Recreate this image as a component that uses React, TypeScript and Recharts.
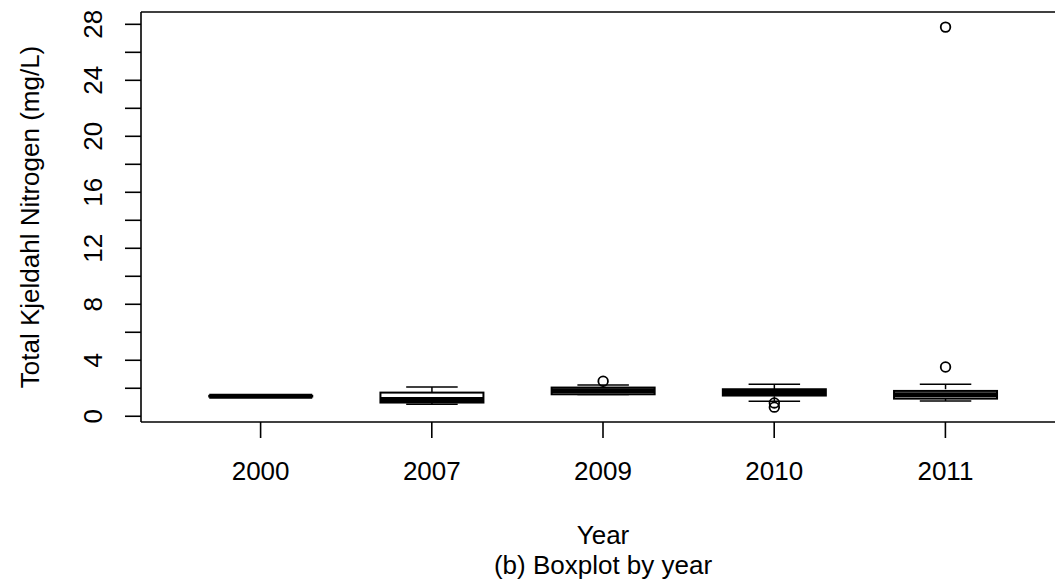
import React from 'react';
import { Bar, ComposedChart, XAxis, YAxis } from 'recharts';

const years = ['2000', '2007', '2009', '2010', '2011'];
const whiskerLo = [1.41, 0.86, 1.55, 1.07, 1.09];
const q1 = [1.41, 0.98, 1.57, 1.48, 1.26];
const median = [1.43, 1.2, 1.82, 1.7, 1.54];
const q3 = [1.46, 1.69, 2.05, 1.93, 1.81];
const whiskerHi = [1.46, 2.09, 2.24, 2.29, 2.29];
const outliers: number[][] = [[], [], [2.5], [0.95, 0.65], [3.52, 27.8]];

const yTicks = [0, 2, 4, 6, 8, 10, 12, 14, 16, 18, 20, 22, 24, 26, 28];
const yDomain: [number, number] = [-0.41, 28.88];

const FONT = '"Liberation Sans", Arial, Helvetica, sans-serif';

const data = years.map((year, i) => ({
    year,
    lo: whiskerLo[i],
    q1: q1[i],
    med: median[i],
    q3: q3[i],
    hi: whiskerHi[i],
    out: outliers[i],
}));

// bar runs from 0 up to the upper whisker, so its height gives the y scale
const BoxShape = (props: any) => {
    const { x, y, width, height, payload } = props;
    const ppu = height / payload.hi;
    const toY = (v: number) => y + (payload.hi - v) * ppu;
    const cx = x + width / 2;
    const half = width / 4;
    const yq1 = toY(payload.q1);
    const yq3 = toY(payload.q3);
    return (
        <g>
            <line x1={cx} x2={cx} y1={toY(payload.hi)} y2={yq3} stroke="#000" strokeWidth={1.5} strokeDasharray="5 4" />
            <line x1={cx} x2={cx} y1={toY(payload.lo)} y2={yq1} stroke="#000" strokeWidth={1.5} strokeDasharray="5 4" />
            <line x1={cx - half} x2={cx + half} y1={toY(payload.hi)} y2={toY(payload.hi)} stroke="#000" strokeWidth={1.5} />
            <line x1={cx - half} x2={cx + half} y1={toY(payload.lo)} y2={toY(payload.lo)} stroke="#000" strokeWidth={1.5} />
            <rect x={x} y={yq3} width={width} height={yq1 - yq3} fill="#fff" stroke="#000" strokeWidth={2} />
            <line x1={x} x2={x + width} y1={toY(payload.med)} y2={toY(payload.med)} stroke="#000" strokeWidth={5} />
            {payload.out.map((v: number, k: number) => (
                <circle key={k} cx={cx} cy={toY(v)} r={4.8} fill="none" stroke="#000" strokeWidth={1.8} />
            ))}
        </g>
    );
};

const YTick = ({ y, payload }: any) => {
    if (payload.value % 4 !== 0) return <g />;
    return (
        <text x={102} y={y} transform={`rotate(-90 102 ${y})`} textAnchor="middle" fontSize={26} fontFamily={FONT} fill="#000">
            {payload.value}
        </text>
    );
};

const XTick = ({ x, payload }: any) => (
    <text x={x} y={480} textAnchor="middle" fontSize={26} fontFamily={FONT} fill="#000">
        {payload.value}
    </text>
);

export default function App() {
    return (
        <div style={{ position: 'absolute', left: 0, top: 0, width: 1055, height: 582, overflow: 'hidden', background: '#fff' }}>
            <ComposedChart width={1080} height={582} data={data} margin={{ top: 11, right: 15, bottom: 130, left: 0 }} barCategoryGap="20%">
                <XAxis
                    dataKey="year"
                    height={30}
                    padding={{ left: 34, right: 34 }}
                    tickSize={16}
                    tick={<XTick />}
                    axisLine={{ stroke: '#000', strokeWidth: 1.6 }}
                    tickLine={{ stroke: '#000', strokeWidth: 1.6 }}
                />
                <XAxis
                    xAxisId="top"
                    dataKey="year"
                    orientation="top"
                    height={1}
                    padding={{ left: 34, right: 34 }}
                    tick={false}
                    tickLine={false}
                    axisLine={{ stroke: '#000', strokeWidth: 1.6 }}
                />
                <YAxis
                    type="number"
                    width={141}
                    domain={yDomain}
                    ticks={yTicks}
                    interval={0}
                    allowDataOverflow
                    tickSize={16}
                    tick={<YTick />}
                    axisLine={{ stroke: '#000', strokeWidth: 1.6 }}
                    tickLine={{ stroke: '#000', strokeWidth: 1.6 }}
                />
                <Bar dataKey="hi" shape={<BoxShape />} isAnimationActive={false} />
            </ComposedChart>
            <svg width={1055} height={582} style={{ position: 'absolute', left: 0, top: 0, pointerEvents: 'none' }}>
                <text x={39} y={217} transform="rotate(-90 39 217)" textAnchor="middle" fontSize={26} fontFamily={FONT} fill="#000">
                    Total Kjeldahl Nitrogen (mg/L)
                </text>
                <text x={603} y={544} textAnchor="middle" fontSize={26} fontFamily={FONT} fill="#000">
                    Year
                </text>
                <text x={603} y={574} textAnchor="middle" fontSize={26} fontFamily={FONT} fill="#000">
                    (b) Boxplot by year
                </text>
            </svg>
        </div>
    );
}
